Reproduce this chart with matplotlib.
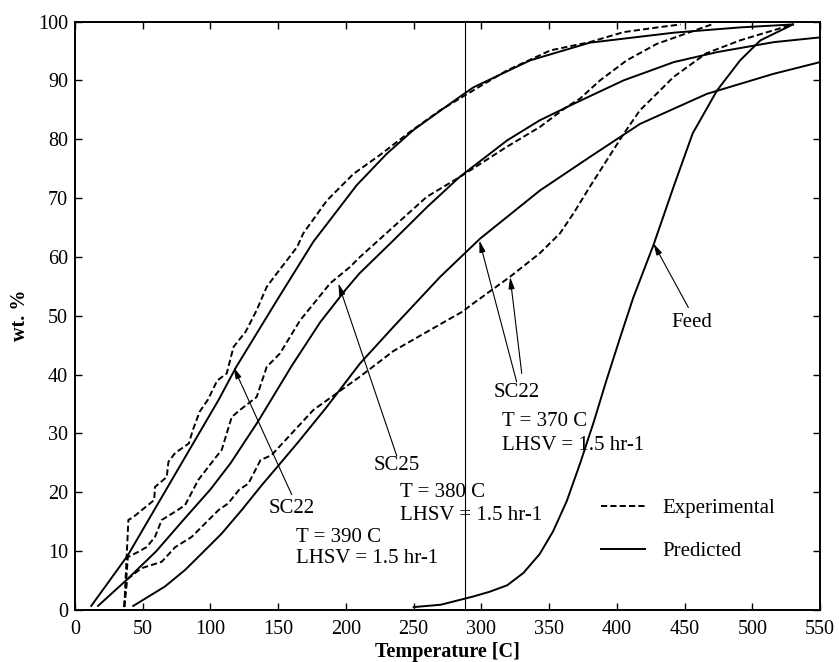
import matplotlib
matplotlib.use("Agg")
import matplotlib.pyplot as plt

plt.rcParams['font.family'] = ['Liberation Serif', 'DejaVu Serif']

# SC22, T = 390 C
a_exp_x = [36.4, 39.4, 43, 58.5, 59, 67.7, 69, 74, 84, 87, 92, 98, 105, 112, 117, 126, 134, 141.5, 146,
           164, 168.5, 186, 205.5, 225, 247, 269.5, 294, 319, 351, 380, 405, 430, 447]
a_exp_y = [0.6, 15.3, 15.8, 18.7, 20.9, 22.6, 25.2, 26.7, 28.3, 30.6, 33.7, 35.7, 39, 40.2, 44.7, 47.3,
           50.9, 54.9, 56.3, 61.7, 64, 69.6, 74.1, 77.3, 81.2, 84.9, 88.3, 91.7, 95.1, 96.5, 98.2, 99, 99.5]
a_pred_x = [12, 39, 75, 106, 119, 149, 176, 208, 230, 250, 284, 294, 336, 380, 442, 491, 530]
a_pred_y = [0.7, 9.3, 23.5, 35.7, 41.3, 52.6, 62.6, 72.2, 77.5, 81.6, 87.2, 88.8, 93.4, 96.4, 98.1, 99, 99.5]

# SC25, T = 380 C
b_exp_x = [36.4, 39, 46.8, 52.9, 59, 64, 73.8, 81.2, 91, 103.4, 108.3, 115.7, 121.8, 134.1, 141.5, 151.3,
           166.1, 188.3, 203, 210.4, 235, 259.6, 284.2, 318.7, 343.3, 363, 372.8, 387.6, 407.3, 429.5, 454, 470]
b_exp_y = [0.5, 9, 9.9, 10.7, 12.4, 15.3, 16.7, 17.8, 22.1, 25.8, 27.2, 32.8, 34, 36.2, 41.3, 43.6,
           49.2, 55.5, 58.3, 60, 65.1, 70.2, 73.6, 78.7, 82.1, 85.5, 86.9, 90, 93.4, 96.2, 98.2, 99.5]
b_pred_x = [17, 38, 60, 80, 100, 115, 125, 135, 145, 160, 181, 200, 210, 235, 260, 284, 319, 343, 368,
            405, 442, 474, 516, 550]
b_pred_y = [0.7, 5.1, 10, 15.3, 20.5, 25, 28.5, 32, 35.8, 41.5, 48.9, 54.5, 57.2, 62.8, 68.5, 73.6, 79.8,
            83.2, 86, 90, 93.1, 94.8, 96.5, 97.3]

# SC22, T = 370 C
c_exp_x = [36.4, 38.5, 49, 64, 74, 86, 106, 113, 121, 128, 137, 145, 176, 210, 235, 260, 286, 294, 321,
           343, 358, 368, 380, 392.5, 405, 417, 442, 466, 491, 515.5, 530]
c_exp_y = [0.5, 5.2, 7.1, 8.2, 10.7, 12.4, 17, 18.1, 20.4, 21.5, 25.5, 26.3, 34, 39.6, 44, 47.3, 50.7,
           52.1, 56.6, 60.6, 64, 67.4, 71.9, 76.4, 80.9, 84.9, 90.6, 94.6, 96.8, 98.5, 99.5]
c_pred_x = [43, 66.4, 81.2, 93.5, 108.3, 123.1, 137.8, 150, 165, 185.8, 210.4, 235, 269.5, 299, 343.3,
            380.2, 417.1, 466.4, 515.5, 550]
c_pred_y = [0.7, 4, 6.8, 9.6, 13, 17, 21.2, 24.5, 28.6, 34.5, 41.9, 48.1, 56.6, 63.1, 71.3, 77, 82.6,
            87.7, 91.1, 93.1]

# feed
feed_x = [250, 270, 294, 306, 319, 331, 343, 353, 363, 373, 383, 392, 402, 412, 427, 442, 456, 474, 491,
          506, 530]
feed_y = [0.5, 0.9, 2.3, 3.1, 4.2, 6.3, 9.5, 13.4, 18.5, 25, 32, 38.8, 46, 53, 62, 72, 81, 88.3, 93.4,
          96.8, 99.5]

x_ticks = list(range(0, 551, 50))
y_ticks = list(range(0, 101, 10))
cut_x = 288

fig = plt.figure(figsize=(8.39, 6.62), dpi=100)
ax = fig.add_axes([0.0894, 0.0785, 0.888, 0.889])

dash = (3.2, 1.6)
lw = 1.4
for xs, ys in [(a_exp_x, a_exp_y), (b_exp_x, b_exp_y), (c_exp_x, c_exp_y)]:
    ax.plot(xs, ys, color='k', lw=lw, dashes=dash)
for xs, ys in [(a_pred_x, a_pred_y), (b_pred_x, b_pred_y), (c_pred_x, c_pred_y), (feed_x, feed_y)]:
    ax.plot(xs, ys, color='k', lw=lw)
ax.axvline(cut_x, color='k', lw=0.8)

fs = 15

# legend
ax.plot([], [], color='k', lw=lw, dashes=dash, label='Experimental')
ax.plot([], [], color='k', lw=lw, label='Predicted')
lines = ax.get_lines()
ax.legend(handles=lines[-2:], loc='upper left', bbox_to_anchor=(0.706, 0.19), frameon=False,
          fontsize=fs, handlelength=2.1, handletextpad=0.85, labelspacing=1.13,
          borderaxespad=0, borderpad=0)

arrow = dict(arrowstyle='-|>,head_length=0.7,head_width=0.18', color='k', lw=0.8,
             shrinkA=0, shrinkB=0)
ax.annotate('', xy=(117, 41.3), xytext=(160, 19.6), arrowprops=arrow)
ax.text(142.7, 17.3, 'SC22', fontsize=fs, va='center', ha='left')
ax.text(163, 12.4, 'T = 390 C', fontsize=fs, va='center', ha='left')
ax.text(163, 8.7, 'LHSV = 1.5 hr-1', fontsize=fs, va='center', ha='left')

ax.annotate('', xy=(194.4, 55.5), xytext=(237.5, 26.2), arrowprops=arrow)
ax.text(220.2, 24.5, 'SC25', fontsize=fs, va='center', ha='left')
ax.text(240, 20, 'T = 380 C', fontsize=fs, va='center', ha='left')
ax.text(240, 16, 'LHSV = 1.5 hr-1', fontsize=fs, va='center', ha='left')

ax.annotate('', xy=(298.5, 62.8), xytext=(326, 38.8), arrowprops=arrow)
ax.annotate('', xy=(321.2, 56.6), xytext=(329.8, 40.2), arrowprops=arrow)
ax.text(308.8, 36.9, 'SC22', fontsize=fs, va='center', ha='left')
ax.text(315, 32, 'T = 370 C', fontsize=fs, va='center', ha='left')
ax.text(315, 28, 'LHSV = 1.5 hr-1', fontsize=fs, va='center', ha='left')

ax.annotate('', xy=(427, 62.3), xytext=(452.8, 51.4), arrowprops=arrow)
ax.text(440.5, 48.8, 'Feed', fontsize=fs, va='center', ha='left')

ax.set_xlim(0, 550)
ax.set_ylim(0, 100)
ax.set_xticks(x_ticks)
ax.set_yticks(y_ticks)
ax.tick_params(direction='in', top=True, right=True, length=5, width=1.0, labelsize=14.5)
ax.tick_params(axis='x', pad=7)
ax.tick_params(axis='y', pad=5)
for s in ax.spines.values():
    s.set_linewidth(1.4)
ax.set_xlabel('Temperature [C]', fontsize=14.5, fontweight='bold', labelpad=2)
ax.set_ylabel('wt. %', fontsize=14.5, fontweight='bold', labelpad=6)

fig.savefig('out.png', dpi=100)
